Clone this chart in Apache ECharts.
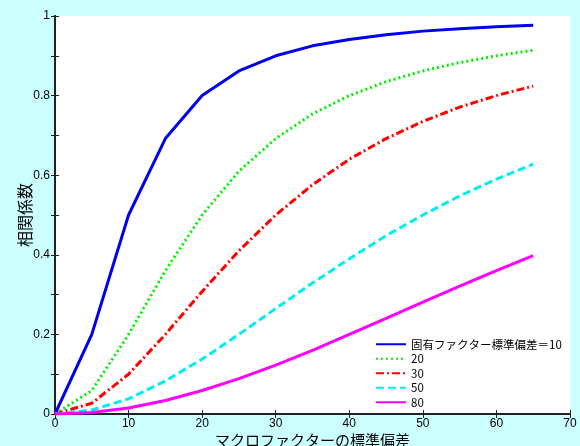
<!DOCTYPE html>
<html>
<head>
    <meta charset="UTF-8">
    <title>相関係数</title>
    <script src="https://cdn.jsdelivr.net/npm/echarts@6/dist/echarts.min.js"></script>
    <style>
        html, body { margin: 0; padding: 0; background: #ccffff; }
        #main { width: 580px; height: 446px; }
    </style>
</head>
<body>
    <div id="main"></div>
    <script>
        // マクロファクターの標準偏差
        var xValues = [0, 5, 10, 15, 20, 25, 30, 35, 40, 45, 50, 55, 60, 65];
        var seriesNames = ['固有ファクター標準偏差＝10', '20', '30', '50', '80'];
        var s10 = [0, 0.20, 0.50, 0.692, 0.80, 0.862, 0.90, 0.925, 0.941, 0.953, 0.962, 0.968, 0.973, 0.977];
        var s20 = [0, 0.059, 0.20, 0.36, 0.50, 0.61, 0.692, 0.754, 0.80, 0.835, 0.862, 0.883, 0.90, 0.914];
        var s30 = [0, 0.027, 0.10, 0.20, 0.308, 0.41, 0.50, 0.576, 0.64, 0.692, 0.735, 0.771, 0.80, 0.824];
        var s50 = [0, 0.01, 0.038, 0.083, 0.138, 0.20, 0.265, 0.329, 0.39, 0.448, 0.50, 0.548, 0.59, 0.628];
        var s80 = [0, 0.004, 0.015, 0.034, 0.059, 0.089, 0.123, 0.16, 0.20, 0.24, 0.281, 0.321, 0.36, 0.398];

        var colors = ['#0000ee', '#00ee00', '#ff0000', '#00eeee', '#ff00ff'];
        var dashes = ['solid', [2, 3], [8, 3, 2, 3], [8, 4], 'solid'];
        var allData = [s10, s20, s30, s50, s80];

        var chart = echarts.init(document.getElementById('main'));

        function pairs(ys) {
            return xValues.map(function (x, i) { return [x, ys[i]]; });
        }

        var series = allData.map(function (ys, i) {
            return {
                name: seriesNames[i],
                type: 'line',
                data: pairs(ys),
                symbol: 'none',
                animation: false,
                lineStyle: { color: colors[i], width: 3, type: dashes[i] },
                itemStyle: { color: colors[i] }
            };
        });

        var fontFamily = '"Liberation Sans", "Noto Sans CJK JP", sans-serif';
        var jpFont = '"Noto Sans CJK JP", sans-serif';
        var axisLineStyle = { color: '#222', width: 2 };

        option = {
            backgroundColor: '#ccffff',
            textStyle: { fontFamily: fontFamily },
            grid: {
                left: 55, right: 10, top: 16, bottom: 32,
                outerBoundsMode: 'none', containLabel: false,
                backgroundColor: '#fff', show: true, borderWidth: 0
            },
            legend: {
                orient: 'vertical',
                left: 370,
                top: 332,
                itemWidth: 30,
                itemHeight: 10,
                itemGap: 0,
                itemStyle: { opacity: 0 },
                textStyle: { fontSize: 11.5, lineHeight: 14.5, color: '#000', fontFamily: jpFont },
                data: seriesNames
            },
            xAxis: [{
                type: 'value',
                min: 0, max: 70, interval: 10,
                name: 'マクロファクターの標準偏差',
                nameLocation: 'middle',
                nameGap: 19,
                nameMoveOverlap: false,
                nameTextStyle: { fontSize: 15, color: '#000', fontFamily: jpFont },
                axisLine: { lineStyle: axisLineStyle },
                axisTick: { inside: true, length: 4, lineStyle: { color: '#222' } },
                axisLabel: { color: '#000', fontSize: 12, margin: 4 },
                splitLine: { show: false }
            }, {
                type: 'value',
                position: 'top',
                min: 0, max: 70, interval: 10,
                axisLine: { show: true, lineStyle: axisLineStyle },
                axisTick: { inside: true, length: 4, lineStyle: { color: '#222' } },
                axisLabel: { show: false },
                splitLine: { show: false }
            }],
            yAxis: [{
                type: 'value',
                min: 0, max: 1, interval: 0.1,
                name: '相関係数',
                nameLocation: 'middle',
                nameGap: 22,
                nameMoveOverlap: false,
                nameTextStyle: { fontSize: 16, color: '#000', fontFamily: jpFont },
                axisLine: { show: true, lineStyle: axisLineStyle },
                axisTick: { inside: true, length: 4, lineStyle: { color: '#222' } },
                axisLabel: {
                    color: '#000', fontSize: 12, margin: 5,
                    formatter: function (v) {
                        return Math.round(v * 10) % 2 === 0 ? String(+v.toFixed(1)) : '';
                    }
                },
                splitLine: { show: false }
            }, {
                type: 'value',
                position: 'right',
                min: 0, max: 1, interval: 0.1,
                axisLine: { show: true, lineStyle: axisLineStyle },
                axisTick: { inside: true, length: 4, lineStyle: { color: '#222' } },
                axisLabel: { show: false },
                splitLine: { show: false }
            }],
            series: series
        };
        chart.setOption(option);
    </script>
</body>
</html>
